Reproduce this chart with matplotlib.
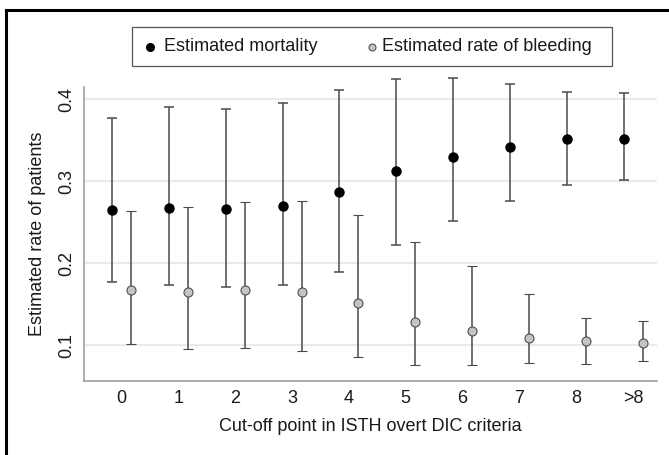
import matplotlib
matplotlib.use("Agg")
import matplotlib.pyplot as plt
from matplotlib.lines import Line2D
from matplotlib.patches import Rectangle
import numpy as np

categories = ["0", "1", "2", "3", "4", "5", "6", "7", "8", ">8"]

mort_est = [0.265, 0.267, 0.266, 0.270, 0.287, 0.313, 0.330, 0.342, 0.351, 0.352]
mort_lo  = [0.177, 0.173, 0.171, 0.173, 0.190, 0.222, 0.251, 0.276, 0.296, 0.301]
mort_hi  = [0.377, 0.391, 0.388, 0.396, 0.411, 0.425, 0.426, 0.419, 0.409, 0.408]

bleed_est = [0.167, 0.165, 0.167, 0.165, 0.152, 0.128, 0.117, 0.109, 0.105, 0.103]
bleed_lo  = [0.101, 0.096, 0.097, 0.093, 0.086, 0.076, 0.076, 0.078, 0.077, 0.081]
bleed_hi  = [0.264, 0.269, 0.275, 0.276, 0.259, 0.226, 0.197, 0.162, 0.133, 0.130]

yticks = [0.1, 0.2, 0.3, 0.4]
legend_labels = ["Estimated mortality", "Estimated rate of bleeding"]

plt.rcParams['font.family'] = ['Liberation Sans', 'DejaVu Sans']
FS = 13
TXT = '#1a1a1a'

fig = plt.figure(figsize=(6.69, 4.55), dpi=100)
W, H = 669, 455
ax = fig.add_axes([84 / W, 1 - 380.5 / H, (657 - 84) / W, (380.5 - 87) / H])

x = np.arange(len(categories))
off = 0.167
ecol = '#4a4a4a'

me = np.array(mort_est)
be = np.array(bleed_est)
ax.errorbar(x - off, me, yerr=[me - np.array(mort_lo), np.array(mort_hi) - me],
            fmt='o', color='black', ecolor=ecol, elinewidth=1.1, capsize=3.5,
            capthick=1.1, markersize=6.5, markeredgecolor='black', clip_on=False, zorder=3)
ax.errorbar(x + off, be, yerr=[be - np.array(bleed_lo), np.array(bleed_hi) - be],
            fmt='o', color='#c4c4c4', ecolor=ecol, elinewidth=1.1, capsize=3.5,
            capthick=1.1, markersize=6.5, markeredgecolor='#505050', markeredgewidth=0.8,
            clip_on=False, zorder=3)

ax.set_xlim(-0.66, 9.42)
ax.set_ylim(0.0571, 0.415)
ax.set_xticks(x)
ax.set_xticklabels(categories, fontsize=FS)
ax.set_yticks(yticks)
ax.set_yticklabels([f"{t:.1f}" for t in yticks], fontsize=FS, rotation=90, va='center')
ax.tick_params(axis='x', length=0, pad=7, colors=TXT)
ax.tick_params(axis='y', length=0, pad=6, colors=TXT)
ax.grid(axis='y', color='#e6e6e6', linewidth=1.2)
ax.set_axisbelow(True)
for s in ['top', 'right']:
    ax.spines[s].set_visible(False)
for s in ['left', 'bottom']:
    ax.spines[s].set_color('#a0a0a0')
    ax.spines[s].set_linewidth(1.2)

ax.set_xlabel("Cut-off point in ISTH overt DIC criteria", fontsize=FS, labelpad=8, color=TXT)
ax.set_ylabel("Estimated rate of patients", fontsize=FS, labelpad=9, color=TXT)

# legend drawn as a box with markers and text
fig.add_artist(Rectangle((132 / W, 1 - 66 / H), (612 - 132) / W, (66 - 27.5) / H,
                         transform=fig.transFigure, facecolor='white',
                         edgecolor='#555555', linewidth=0.9))
ly = 1 - 46.5 / H
fig.add_artist(Line2D([150 / W], [ly], transform=fig.transFigure, linestyle='none',
                      marker='o', color='black', markersize=5.5))
fig.add_artist(Line2D([372 / W], [ly], transform=fig.transFigure, linestyle='none',
                      marker='o', color='#c4c4c4', markeredgecolor='#505050',
                      markeredgewidth=0.8, markersize=5))
fig.text(164 / W, ly, legend_labels[0], fontsize=FS, va='center', ha='left', color=TXT)
fig.text(382 / W, ly, legend_labels[1], fontsize=FS, va='center', ha='left', color=TXT)

# outer frame lines (left and top)
fig.add_artist(Line2D([6.5 / W, 6.5 / W], [0, 1 - 10 / H], transform=fig.transFigure,
                      color='black', linewidth=2.2))
fig.add_artist(Line2D([5.5 / W, 1], [1 - 10 / H, 1 - 10 / H], transform=fig.transFigure,
                      color='black', linewidth=2.2))

fig.savefig("out.png", dpi=100)
